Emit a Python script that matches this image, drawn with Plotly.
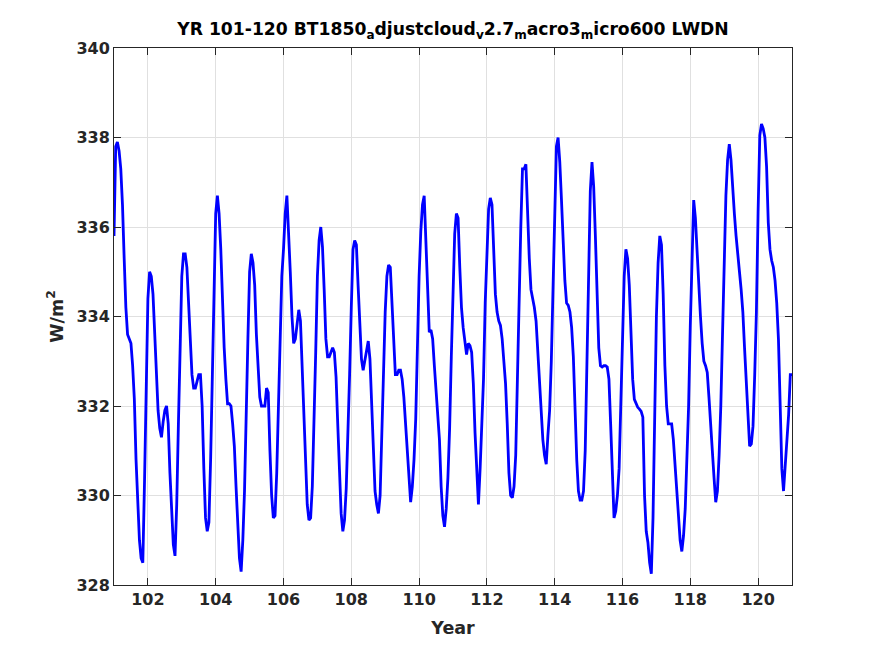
import numpy as np
import plotly.graph_objects as go

# LWDN series, 20 samples per model year (step 0.05 yr)
lwdn_by_year = {
    101: [335.8, 337.8, 337.9, 337.7, 337.3, 336.5, 335.3, 334.2, 333.6, 333.5,
          333.4, 332.9, 332.15, 330.8, 329.9, 329.0, 328.6, 328.5, 330.3, 332.6],
    102: [334.4, 335.0, 334.9, 334.5, 333.7, 332.7, 331.9, 331.5, 331.3, 331.65,
          331.9, 332.0, 331.6, 330.5, 329.5, 328.9, 328.65, 329.8, 331.6, 333.4],
    103: [334.9, 335.4, 335.4, 335.1, 334.2, 333.3, 332.7, 332.4, 332.4, 332.55,
          332.7, 332.7, 332.0, 330.6, 329.5, 329.2, 329.4, 330.8, 332.8, 335.0],
    104: [336.3, 336.7, 336.3, 335.5, 334.1, 333.3, 332.6, 332.05, 332.05, 332.0,
          331.6, 331.1, 330.2, 329.2, 328.6, 328.3, 329.0, 330.1, 331.5, 333.5],
    105: [335.0, 335.4, 335.2, 334.7, 333.6, 332.7, 332.2, 332.0, 332.0, 332.0,
          332.4, 332.3, 331.0, 330.0, 329.5, 329.55, 330.5, 332.0, 333.6, 334.9],
    106: [335.5, 336.3, 336.7, 336.0, 335.0, 334.0, 333.4, 333.5, 333.9, 334.15,
          333.9, 332.9, 331.9, 330.7, 329.8, 329.45, 329.5, 330.2, 331.5, 333.2],
    107: [334.9, 335.7, 336.0, 335.55, 334.6, 333.5, 333.1, 333.1, 333.2, 333.3,
          333.2, 332.65, 331.6, 330.4, 329.6, 329.2, 329.45, 330.15, 331.2, 332.7],
    108: [334.2, 335.5, 335.7, 335.6, 334.7, 333.7, 333.05, 332.8, 333.05, 333.2,
          333.45, 333.05, 332.1, 330.9, 330.1, 329.8, 329.6, 330.0, 331.4, 332.8],
    109: [334.1, 334.9, 335.15, 335.1, 334.3, 333.3, 332.7, 332.7, 332.8, 332.8,
          332.6, 332.2, 331.6, 330.9, 330.2, 329.85, 330.2, 330.8, 331.7, 333.5],
    110: [334.9, 335.9, 336.5, 336.7, 335.6, 334.7, 333.65, 333.7, 333.5, 332.9,
          332.4, 331.95, 331.25, 330.2, 329.55, 329.3, 329.7, 330.4, 331.5, 333.1],
    111: [334.8, 335.85, 336.3, 336.2, 335.1, 334.2, 333.75, 333.4, 333.15, 333.4,
          333.35, 333.2, 332.5, 331.4, 330.4, 329.8, 330.6, 331.5, 332.6, 334.3],
    112: [335.6, 336.4, 336.65, 336.5, 335.5, 334.5, 334.1, 333.9, 333.8, 333.5,
          333.0, 332.5, 331.6, 330.5, 330.0, 329.95, 330.2, 330.9, 332.6, 334.7],
    113: [336.0, 337.3, 337.3, 337.4, 336.3, 335.3, 334.6, 334.4, 334.2, 333.9,
          333.2, 332.45, 331.8, 331.25, 330.9, 330.7, 331.35, 331.9, 333.0, 334.6],
    114: [336.7, 337.8, 338.0, 337.45, 336.6, 335.6, 334.8, 334.3, 334.25, 334.1,
          333.75, 333.1, 331.9, 330.8, 330.1, 329.9, 329.9, 330.1, 331.0, 333.0],
    115: [335.5, 336.8, 337.45, 336.9, 335.8, 334.3, 333.3, 332.9, 332.87, 332.9,
          332.9, 332.87, 332.6, 331.6, 330.3, 329.5, 329.65, 330.0, 330.6, 331.9],
    116: [333.6, 334.9, 335.5, 335.3, 334.7, 333.6, 332.6, 332.15, 332.05, 331.97,
          331.93, 331.88, 331.75, 330.0, 329.2, 328.95, 328.5, 328.25, 329.5, 332.0],
    117: [334.0, 335.2, 335.8, 335.6, 334.5, 332.9, 332.0, 331.6, 331.6, 331.6,
          331.25, 330.7, 330.0, 329.4, 329.0, 328.75, 329.1, 329.7, 330.7, 332.0],
    118: [333.8, 335.5, 336.6, 336.2, 335.4, 334.5, 334.0, 333.4, 333.0, 332.9,
          332.75, 332.2, 331.5, 330.9, 330.4, 329.85, 330.1, 330.9, 332.0, 333.6],
    119: [335.5, 336.7, 337.5, 337.85, 337.5, 336.8, 336.3, 335.8, 335.3, 335.0,
          334.6, 334.1, 333.3, 332.6, 331.8, 331.1, 331.15, 331.55, 332.7, 334.1],
    120: [336.35, 338.05, 338.3, 338.2, 338.0, 337.35, 336.1, 335.5, 335.25, 335.1,
          334.8, 334.3, 333.5, 332.1, 330.6, 330.1, 330.6, 331.3, 331.8, 332.7],
}
lwdn_end = 332.7  # value at year 121.0

years = sorted(lwdn_by_year)
lwdn = [v for y in years for v in lwdn_by_year[y]] + [lwdn_end]
time = 101 + 0.05 * np.arange(len(lwdn))

x_ticks = [102, 104, 106, 108, 110, 112, 114, 116, 118, 120]
y_ticks = [328, 330, 332, 334, 336, 338, 340]

title = ("YR 101-120 BT1850<sub>a</sub>djustcloud<sub>v</sub>2.7"
         "<sub>m</sub>acro3<sub>m</sub>icro600 LWDN")

fig = go.Figure()
fig.add_trace(go.Scatter(x=time, y=lwdn, mode="lines",
                         line=dict(color="#0000ff", width=2.8),
                         showlegend=False))

axis_style = dict(showline=True, linecolor="#262626", linewidth=1, mirror="ticks",
                  ticks="inside", ticklen=7, tickcolor="#262626",
                  showgrid=True, gridcolor="#e0e0e0", gridwidth=1, zeroline=False,
                  tickfont=dict(family="DejaVu Sans", size=16, color="#262626",
                                weight="bold"))
label_font = dict(family="DejaVu Sans", size=17.5, color="#262626", weight="bold")

fig.update_xaxes(range=[101, 121], tickvals=x_ticks, ticktext=[str(t) for t in x_ticks],
                 title=dict(text="Year", standoff=13, font=label_font),
                 **axis_style)
fig.update_yaxes(range=[328, 340], tickvals=y_ticks, ticktext=[str(t) for t in y_ticks],
                 title=dict(text="W/m<sup>2</sup>", standoff=8, font=label_font),
                 **axis_style)

# page body has an 8px margin, so the figure is drawn 16px smaller in each direction
fig.update_layout(
    width=859, height=640,
    margin=dict(l=106, r=75, t=40, b=63),
    paper_bgcolor="white", plot_bgcolor="white",
    title=dict(text=title, xref="paper", x=0.5, xanchor="center",
               y=0.967, yanchor="middle",
               font=dict(family="DejaVu Sans", size=17.2, color="black",
                         weight="bold")),
)

fig.write_html("out.html")
